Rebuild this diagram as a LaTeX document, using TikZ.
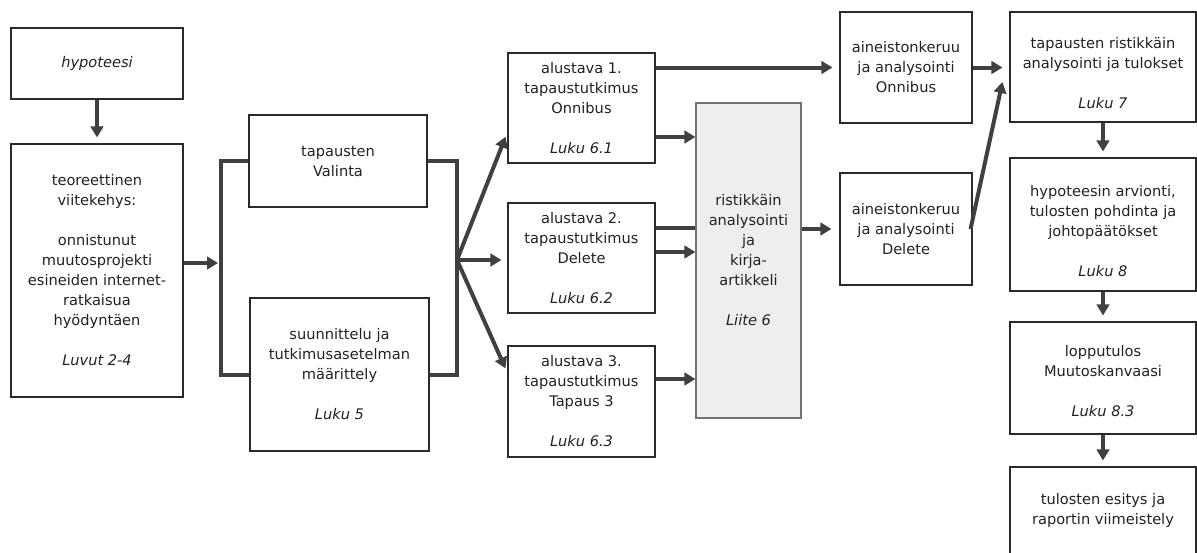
\documentclass[tikz,border=0pt]{standalone}
\usepackage{fontspec}
\setmainfont{DejaVu Sans}
\usetikzlibrary{arrows.meta,shadows}
\definecolor{ink}{HTML}{222222}
\definecolor{edge}{HTML}{2A2A2A}
\definecolor{flow}{HTML}{404040}
\definecolor{panel}{HTML}{EEEEEE}
\newcommand\boxfont{\fontsize{14.6pt}{20pt}\selectfont}
\newcommand\gap{\\[20pt]}

\begin{document}
\begin{tikzpicture}[x=1pt,y=-1pt,
  box/.style={draw=edge, line width=1.1pt, fill=white, inner sep=0pt,
    align=center, font=\boxfont, text=ink,
    drop shadow={shadow xshift=1pt,shadow yshift=-1pt,fill=black!45,opacity=.6}},
  greybox/.style={box, draw=black!55, fill=panel},
  boxtext/.style={align=center, font=\boxfont, text=ink, inner sep=0pt},
  arr/.style={draw=flow, line width=4pt, -{Triangle[length=11pt,width=12.5pt]}},
  link/.style={draw=flow, line width=4pt, line join=miter},
]
\useasboundingbox (0,0) rectangle (1197,552);
\clip (0,0) rectangle (1197,552);

% left column
\node[box, minimum width=172pt, minimum height=71pt] (hyp) at (97,63.5) {\itshape hypoteesi};
\node[box, minimum width=172pt, minimum height=253pt] (teor) at (97,270.5)
  {teoreettinen\\viitekehys:\gap onnistunut\\muutosprojekti\\esineiden internet-\\ratkaisua\\hyödyntäen\gap\itshape Luvut 2-4};

% planning stage
\node[box, minimum width=178pt, minimum height=92pt] (val) at (338,161) {tapausten\\Valinta};
\node[box, minimum width=179pt, minimum height=153pt] (suu) at (339.5,374.5)
  {suunnittelu ja\\tutkimusasetelman\\määrittely\gap\itshape Luku 5};

% preliminary case studies
\node[box, minimum width=147pt, minimum height=110pt] (al1) at (581.5,108)
  {alustava 1.\\tapaustutkimus\\Onnibus\gap\itshape Luku 6.1};
\node[box, minimum width=147pt, minimum height=110pt] (al2) at (581.5,258)
  {alustava 2.\\tapaustutkimus\\Delete\gap\itshape Luku 6.2};
\node[box, minimum width=147pt, minimum height=111pt] (al3) at (581.5,401.5)
  {alustava 3.\\tapaustutkimus\\Tapaus 3\gap\itshape Luku 6.3};

% cross analysis / article
\node[greybox, minimum width=105pt, minimum height=315pt] (cross) at (748.5,260.5)
  {ristikkäin\\analysointi\\ja\\kirja-\\artikkeli\gap\itshape Liite 6};

% data collection
\node[box, minimum width=132pt, minimum height=111pt] (onn) at (906,67.5)
  {aineistonkeruu\\ja analysointi\\Onnibus};
\node[box, minimum width=132pt, minimum height=112pt] (del) at (906,229)
  {aineistonkeruu\\ja analysointi\\Delete};

% results column (text sits a little below the box centre)
\node[box, minimum width=186pt, minimum height=110pt,
  label={[boxtext, yshift=-6pt]center:{tapausten ristikkäin\\analysointi ja tulokset\gap\itshape Luku 7}}]
  (tap) at (1103,67) {};
\node[box, minimum width=186pt, minimum height=133pt,
  label={[boxtext, yshift=-7pt]center:{hypoteesin arvionti,\\tulosten pohdinta ja\\johtopäätökset\gap\itshape Luku 8}}]
  (arv) at (1103,224.5) {};
\node[box, minimum width=186pt, minimum height=112pt,
  label={[boxtext, yshift=-3pt]center:{lopputulos\\Muutoskanvaasi\gap\itshape Luku 8.3}}]
  (lop) at (1103,378) {};
\node[box, minimum width=186pt, minimum height=133pt,
  label={[boxtext, yshift=23pt]center:{tulosten esitys ja\\raportin viimeistely}}]
  (esi) at (1103,533.5) {};

% junction points of the brackets
\coordinate (brin) at (221,263);
\coordinate (fan) at (457,260);

% connectors
\draw[arr, shorten >=6pt] (hyp) -- (teor);
\draw[arr, shorten >=3pt] (teor.east |- brin) -- (brin);
\draw[link] (val.west) -| (brin) |- (suu.west);
\draw[link] (val.east) -| (fan) |- (suu.east);

\draw[arr, shorten >=5pt] (fan) -- ([yshift=-24pt]al1.west);
\draw[arr, shorten >=6pt] (fan) -- (fan -| al2.west);
\draw[arr, shorten >=5pt] (fan) -- ([yshift=28.5pt]al3.west);

\draw[arr, shorten >=7pt] (al1.east |- onn.west) -- (onn.west);
\draw[arr] ([yshift=-29pt]al1.east) -- ([yshift=-29pt]al1.east -| cross.west);
\draw[link] ([yshift=30pt]al2.east) -- ([yshift=30pt]al2.east -| cross.west);
\draw[arr] ([yshift=6pt]al2.east) -- ([yshift=6pt]al2.east -| cross.west);
\draw[arr] ([yshift=22.5pt]al3.east) -- ([yshift=22.5pt]al3.east -| cross.west);

\draw[arr, shorten >=8pt] (cross.east |- del.west) -- (del.west);
\draw[arr, shorten >=7pt] (onn.east) -- (onn.east -| tap.west);
\draw[arr] ([xshift=-2pt]del.east) -- ([xshift=-7pt,yshift=-15pt]tap.west);

\draw[arr, shorten >=6pt] (tap) -- (arv);
\draw[arr, shorten >=6pt] (arv) -- (lop);
\draw[arr, shorten >=6pt] (lop) -- (esi);
\end{tikzpicture}
\end{document}
